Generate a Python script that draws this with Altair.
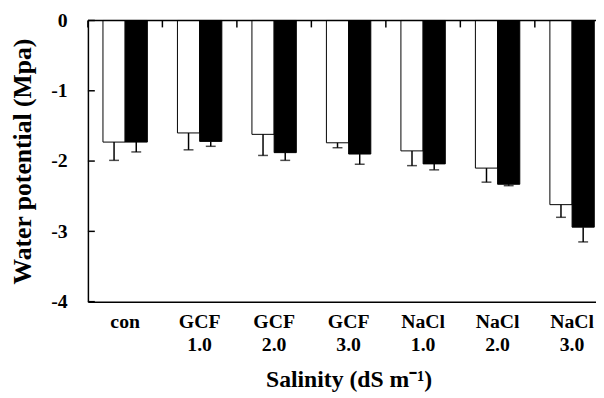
import altair as alt
import pandas as pd

categories = ["con", "GCF 1.0", "GCF 2.0", "GCF 3.0", "NaCl 1.0", "NaCl 2.0", "NaCl 3.0"]
series = ["open", "filled"]
open_values = [-1.73, -1.60, -1.62, -1.74, -1.855, -2.10, -2.62]
open_errors = [0.26, 0.24, 0.30, 0.07, 0.21, 0.20, 0.18]
filled_values = [-1.73, -1.72, -1.88, -1.90, -2.04, -2.33, -2.94]
filled_errors = [0.14, 0.07, 0.11, 0.145, 0.085, 0.02, 0.21]
y_tick_values = [0, -1, -2, -3, -4]

rows = []
for i, c in enumerate(categories):
    rows.append({"cat": c, "s": "open", "v": open_values[i], "e": open_errors[i]})
    rows.append({"cat": c, "s": "filled", "v": filled_values[i], "e": filled_errors[i]})
df = pd.DataFrame(rows)

FONT = "Liberation Serif"

xscale = alt.Scale(domain=categories, range=[0, 528.5], paddingInner=0, paddingOuter=0)
offscale = alt.Scale(domain=series, paddingInner=0, paddingOuter=0.678)
yscale = alt.Scale(domain=[-4, 0], nice=False, zero=False)

x_enc = alt.X(
    "cat:N",
    scale=xscale,
    sort=categories,
    axis=alt.Axis(
        title="Salinity (dS m⁻¹)",
        labelAngle=0,
        labelExpr="split(datum.label, ' ')",
        labelLineHeight=23.5,
        labelPadding=10,
        labelFont=FONT,
        labelFontWeight="bold",
        labelFontSize=20,
        labelColor="black",
        titleFont=FONT,
        titleFontWeight="bold",
        titleFontSize=24,
        titleColor="black",
        titlePadding=14,
        ticks=False,
        domainColor="black",
        domainWidth=1.5,
        grid=False,
    ),
)
y_enc = alt.Y(
    "v:Q",
    scale=yscale,
    axis=alt.Axis(
        title="Water potential (Mpa)",
        values=y_tick_values,
        labelExpr="datum.value == 0 ? '0' : '-' + abs(datum.value)",
        labelPadding=21,
        labelFont=FONT,
        labelFontWeight="bold",
        labelFontSize=20,
        labelColor="black",
        titleFont=FONT,
        titleFontWeight="bold",
        titleFontSize=26,
        titleColor="black",
        titlePadding=16,
        ticks=False,
        domainColor="black",
        domainWidth=1.5,
        grid=False,
    ),
)

base = alt.Chart(df)

bars = base.mark_bar(stroke="black", strokeWidth=1).encode(
    x=x_enc,
    xOffset=alt.XOffset("s:N", scale=offscale, sort=series),
    y=y_enc,
    fill=alt.Fill("s:N", scale=alt.Scale(domain=series, range=["white", "black"]), legend=None),
)

err_rule = base.transform_calculate(low="datum.v - datum.e").mark_rule(
    color="black", strokeWidth=1.5
).encode(
    x=alt.X("cat:N", sort=categories),
    xOffset=alt.XOffset("s:N", sort=series),
    y="v:Q",
    y2="low:Q",
)

err_cap = base.transform_calculate(low="datum.v - datum.e").mark_tick(
    color="black", thickness=1.5, size=10, orient="horizontal"
).encode(
    x=alt.X("cat:N", sort=categories),
    xOffset=alt.XOffset("s:N", sort=series),
    y=alt.Y("low:Q"),
)

top_line = alt.Chart(pd.DataFrame({"z": [0]})).mark_rule(color="black", strokeWidth=1.5).encode(
    y=alt.Y("z:Q")
)

top_ticks = alt.Chart(pd.DataFrame({"cat": categories})).mark_rule(color="black", strokeWidth=1.5).encode(
    x=alt.X("cat:N", sort=categories, bandPosition=0),
    y=alt.value(0),
    y2=alt.value(7),
)

y_ticks = alt.Chart(pd.DataFrame({"t": y_tick_values})).mark_rule(color="black", strokeWidth=1.5).encode(
    y=alt.Y("t:Q"),
    x=alt.value(0),
    x2=alt.value(7),
)

chart = (
    alt.layer(bars, err_rule, err_cap, top_line, top_ticks, y_ticks)
    .properties(
        width=515,
        height=285,
        autosize=alt.AutoSizeParams(type="none"),
        padding={"left": 81, "top": 10, "right": 0, "bottom": 95},
        background="white",
    )
    .configure_view(strokeWidth=0)
)

chart.save("out.html", embed_options={"renderer": "svg", "actions": False})
